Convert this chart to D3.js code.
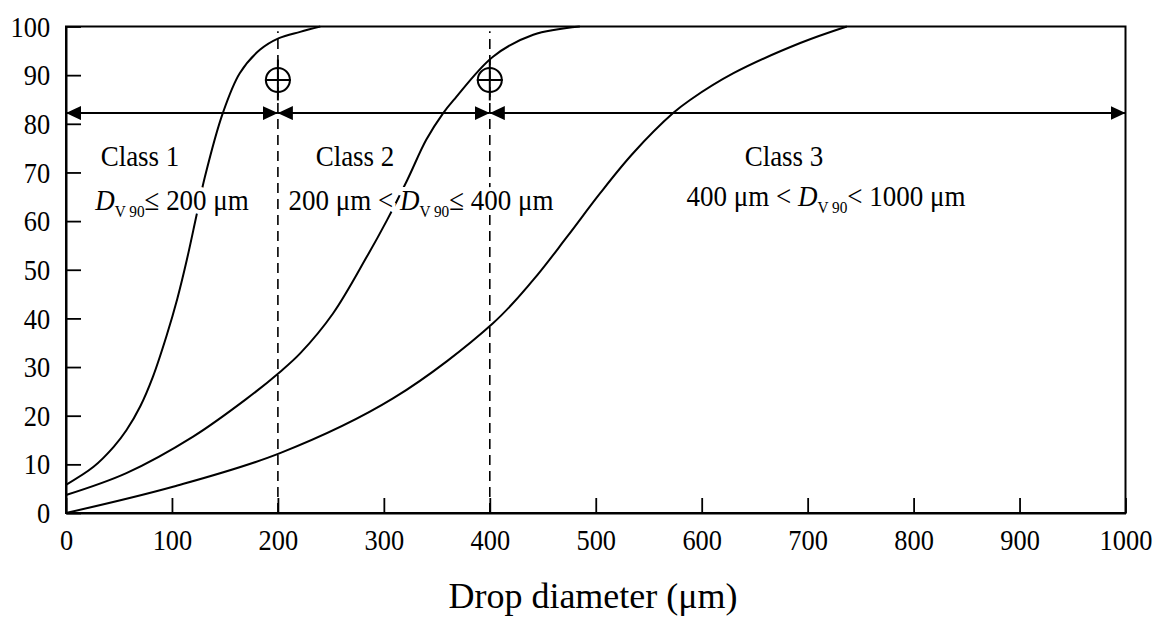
<!DOCTYPE html>
<html>
<head>
<meta charset="utf-8">
<script src="https://cdn.jsdelivr.net/npm/d3@7"></script>
<style>
    body { margin: 0; background: #fff; }
    text { font-family: "Liberation Serif", "Times New Roman", serif; fill: #000; }
</style>
</head>
<body>
<div id="chart"></div>
<script>
/* global d3 */

// cumulative volume (%) vs drop diameter (um)
var curve1 = [[0, 5.8], [26, 9.5], [45, 13.6], [57, 17], [70, 21.9], [82, 28], [95, 36.5],
    [105, 44], [114, 52], [123, 61], [131, 69], [148, 82.2], [164, 90.4], [183, 95.2],
    [201, 97.6], [221, 98.9], [240, 100]];
var curve2 = [[0, 3.7], [57, 8.2], [120, 15.7], [170, 23.4], [202, 29], [221, 32.8],
    [252, 41], [284, 52.7], [303, 60.2], [322, 68.4], [340, 76.7], [356, 82.2], [366, 84.9],
    [403, 93.8], [441, 98.3], [485, 100]];
var curve3 = [[0, 0], [101, 5.4], [202, 12.3], [309, 23.6], [403, 39], [441, 47.9],
    [473, 56.8], [504, 65.7], [535, 73.9], [573, 82.2], [589, 84.9], [630, 90.4],
    [693, 96.6], [737, 100]];

var classBounds = [[0, 200], [200, 400], [400, 1000]];
var classNames = ["Class 1", "Class 2", "Class 3"];
var classNameX = [140, 355, 784];
var dividers = [200, 400];
var dividerTop = 99;
var arrowY = 82.2;
var markerY = 89;

var xTicks = [0, 100, 200, 300, 400, 500, 600, 700, 800, 900, 1000];
var yTicks = [0, 10, 20, 30, 40, 50, 60, 70, 80, 90, 100];
var xLabel = "Drop diameter (\u03bcm)";

var width = 1162,
    height = 623,
    margin = { top: 26.5, right: 36.5, bottom: 110, left: 66 },
    innerWidth = width - margin.left - margin.right,
    innerHeight = height - margin.top - margin.bottom;

var svg = d3.select("#chart").append("svg")
    .attr("width", width)
    .attr("height", height);

var defs = svg.append("defs");
defs.append("marker")
    .attr("id", "arrow")
    .attr("viewBox", "0 0 15 14")
    .attr("refX", 15)
    .attr("refY", 7)
    .attr("markerWidth", 15)
    .attr("markerHeight", 14)
    .attr("markerUnits", "userSpaceOnUse")
    .attr("orient", "auto-start-reverse")
    .append("path")
    .attr("d", "M0,0L15,7L0,14Z")
    .attr("fill", "#000");

var g = svg.append("g")
    .attr("transform", "translate(" + margin.left + "," + margin.top + ")");

var xScale = d3.scaleLinear().domain([0, 1000]).range([0, innerWidth]);
var yScale = d3.scaleLinear().domain([0, 100]).range([innerHeight, 0]);

// axes, ticks pointing inwards
var xAxis = g.append("g")
    .attr("class", "x axis")
    .attr("transform", "translate(0," + innerHeight + ")")
    .call(d3.axisBottom(xScale).tickValues(xTicks).tickFormat(d3.format("d"))
        .tickSizeInner(-15).tickSizeOuter(0).tickPadding(16));

var yAxis = g.append("g")
    .attr("class", "y axis")
    .call(d3.axisLeft(yScale).tickValues(yTicks).tickFormat(d3.format("d"))
        .tickSizeInner(-15).tickSizeOuter(0).tickPadding(18));

[xAxis, yAxis].forEach(function(ax) {
    ax.attr("font-family", null).attr("font-size", null);
    ax.selectAll("path.domain").attr("stroke", "#000").attr("stroke-width", 2);
    ax.selectAll(".tick line").attr("stroke", "#000").attr("stroke-width", 1.8);
    ax.selectAll(".tick text")
        .style("font-size", "30px")
        .attr("fill", "#000")
        .attr("transform", "scale(0.88,1)");
});

// top and right frame
g.append("rect")
    .attr("x", 0)
    .attr("y", 0)
    .attr("width", innerWidth)
    .attr("height", innerHeight)
    .attr("fill", "none")
    .attr("stroke", "#000")
    .attr("stroke-width", 2);

// dashed class dividers
g.selectAll(".divider")
    .data(dividers)
    .enter().append("line")
    .attr("class", "divider")
    .attr("x1", function(d) { return xScale(d); })
    .attr("x2", function(d) { return xScale(d); })
    .attr("y1", yScale(0))
    .attr("y2", yScale(dividerTop))
    .attr("stroke", "#000")
    .attr("stroke-width", 1.6)
    .attr("stroke-dasharray", "10,6");

// curves
var line = d3.line()
    .x(function(d) { return xScale(d[0]); })
    .y(function(d) { return yScale(d[1]); })
    .curve(d3.curveCatmullRom.alpha(0.5));

g.selectAll(".curve")
    .data([curve1, curve2, curve3])
    .enter().append("path")
    .attr("class", "curve")
    .attr("d", line)
    .attr("fill", "none")
    .attr("stroke", "#000")
    .attr("stroke-width", 2);

// class range arrows
g.selectAll(".range")
    .data(classBounds)
    .enter().append("line")
    .attr("class", "range")
    .attr("x1", function(d) { return xScale(d[0]); })
    .attr("x2", function(d) { return xScale(d[1]); })
    .attr("y1", yScale(arrowY))
    .attr("y2", yScale(arrowY))
    .attr("stroke", "#000")
    .attr("stroke-width", 2)
    .attr("marker-start", "url(#arrow)")
    .attr("marker-end", "url(#arrow)");

// D_V90 reference markers
var target = g.selectAll(".target")
    .data(dividers)
    .enter().append("g")
    .attr("class", "target")
    .attr("transform", function(d) { return "translate(" + xScale(d) + "," + yScale(markerY) + ")"; });

target.append("line")
    .attr("x1", 0).attr("x2", 0)
    .attr("y1", yScale(markerY + 4.2) - yScale(markerY))
    .attr("y2", yScale(markerY - 4.2) - yScale(markerY))
    .attr("stroke", "#000")
    .attr("stroke-width", 2);

target.append("circle")
    .attr("r", 12)
    .attr("fill", "none")
    .attr("stroke", "#000")
    .attr("stroke-width", 2);

target.append("line")
    .attr("x1", -13).attr("x2", 13)
    .attr("y1", 0).attr("y2", 0)
    .attr("stroke", "#000")
    .attr("stroke-width", 2);

// class names
g.selectAll(".classname")
    .data(classNames)
    .enter().append("text")
    .attr("class", "classname")
    .attr("text-anchor", "middle")
    .attr("transform", function(d, i) {
        return "translate(" + (classNameX[i] - margin.left) + "," + (166 - margin.top) + ") scale(0.9,1)";
    })
    .style("font-size", "30px")
    .text(function(d) { return d; });

// class definitions: a white halo copy first, then the text itself
var formulas = [
    { cx: 172, cy: 210, pre: "", post: "\u2264 200 \u03bcm" },
    { cx: 421, cy: 210, pre: "200 \u03bcm < ", post: "\u2264 400 \u03bcm" },
    { cx: 826, cy: 206, pre: "400 \u03bcm < ", post: "< 1000 \u03bcm" }
];

function formula(cls, halo) {
    var t = g.selectAll("." + cls)
        .data(formulas)
        .enter().append("text")
        .attr("class", cls)
        .attr("text-anchor", "middle")
        .attr("transform", function(d) {
            return "translate(" + (d.cx - margin.left) + "," + (d.cy - margin.top) + ") scale(0.9,1)";
        })
        .style("font-size", "30px");
    if (halo) {
        t.attr("stroke", "#fff").attr("stroke-width", 8).style("fill", "#fff");
    }
    t.append("tspan").attr("xml:space", "preserve").text(function(d) { return d.pre; });
    t.append("tspan").style("font-style", "italic").text("D");
    t.append("tspan").style("font-size", "17px").attr("dy", 7).text("V 90");
    t.append("tspan").attr("dy", -7).text(function(d) { return d.post; });
}
formula("halo", true);
formula("formula", false);

// x label
svg.append("text")
    .attr("x", 593)
    .attr("y", 608)
    .attr("text-anchor", "middle")
    .style("font-size", "36px")
    .text(xLabel);
</script>
</body>
</html>
